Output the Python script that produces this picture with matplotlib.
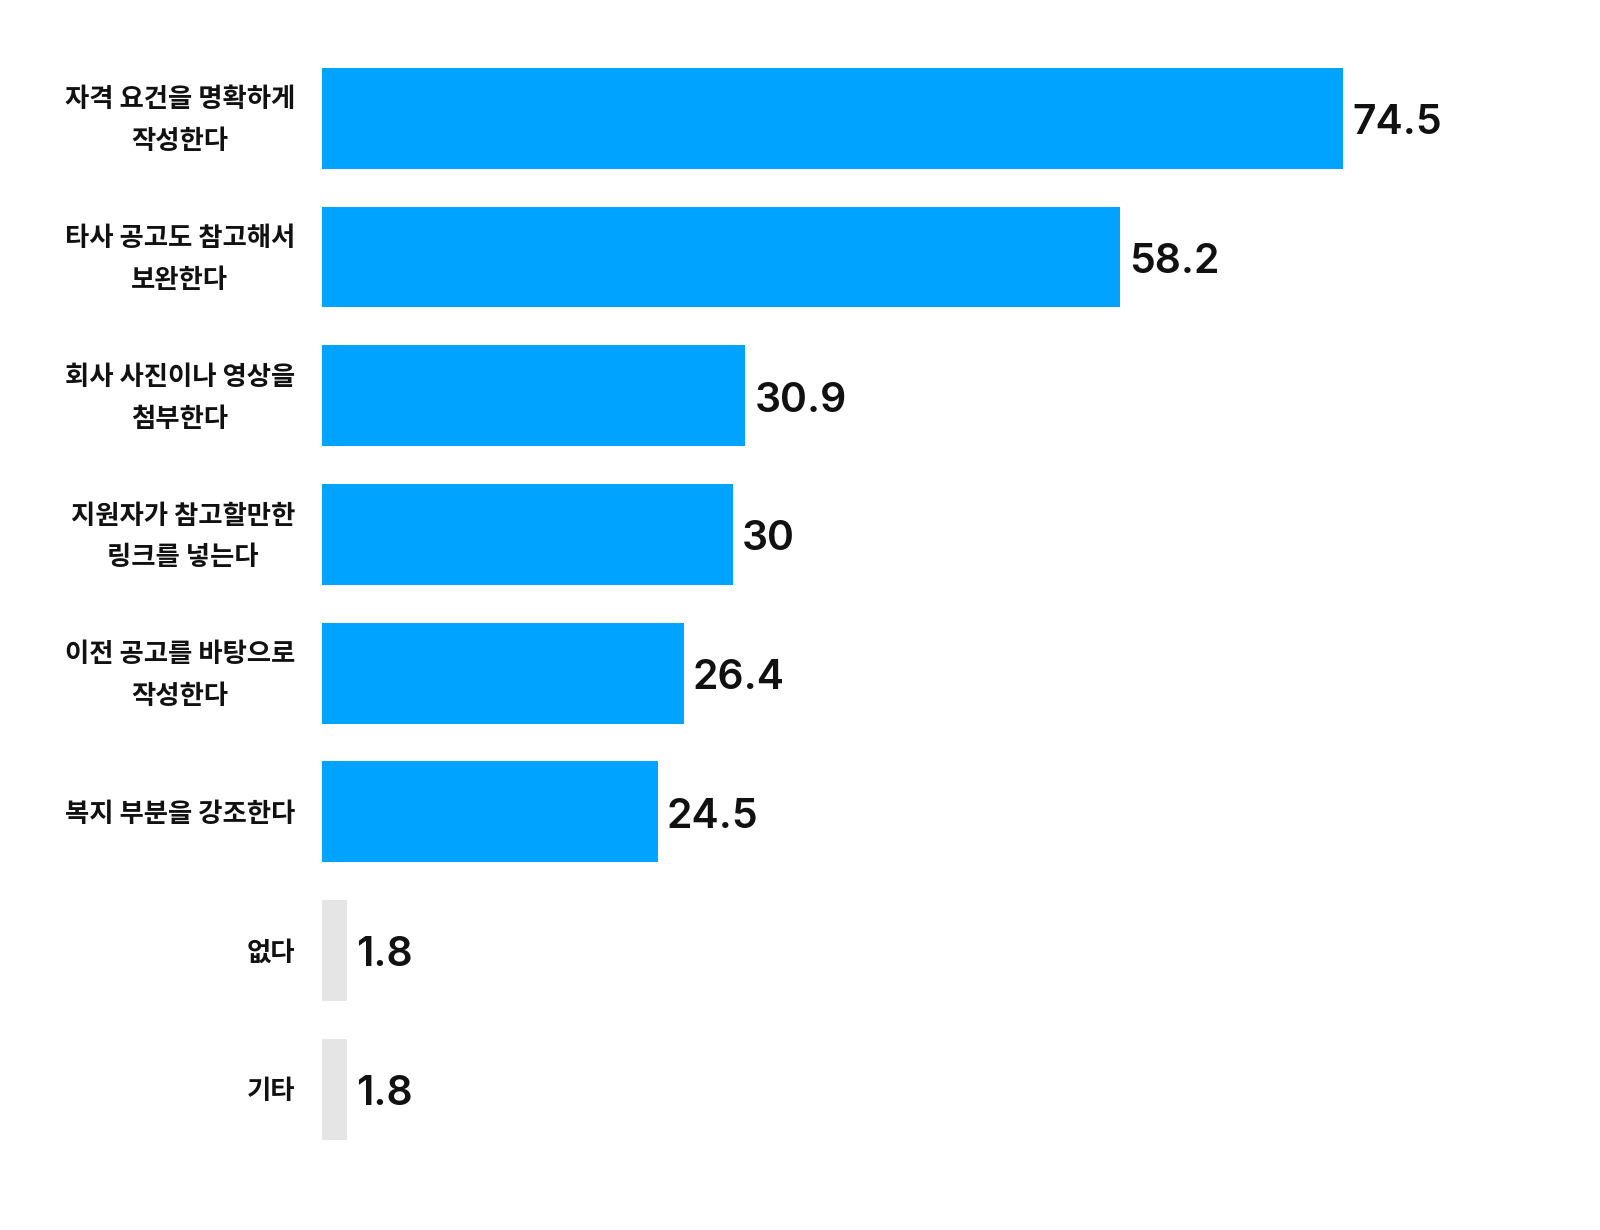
import matplotlib
matplotlib.use("Agg")
import matplotlib.pyplot as plt
import matplotlib.transforms as mtransforms

categories = [
    "자격 요건을 명확하게\n작성한다",
    "타사 공고도 참고해서\n보완한다",
    "회사 사진이나 영상을\n첨부한다",
    "지원자가 참고할만한\n링크를 넣는다",
    "이전 공고를 바탕으로\n작성한다",
    "복지 부분을 강조한다",
    "없다",
    "기타",
]
values = [74.5, 58.2, 30.9, 30, 26.4, 24.5, 1.8, 1.8]
value_labels = ["74.5", "58.2", "30.9", "30", "26.4", "24.5", "1.8", "1.8"]
highlight = [True, True, True, True, True, True, False, False]

BLUE = "#00A3FF"
GREY = "#E5E5E5"

W, H = 1600, 1230
fig = plt.figure(figsize=(W / 100, H / 100), dpi=100)
left_px, right_px = 322, 1600
top_px, bot_px = 49, 1158.5
ax = fig.add_axes([left_px / W, (H - bot_px) / H, (right_px - left_px) / W, (bot_px - top_px) / H])

pos = list(range(len(categories)))
colors = [BLUE if h else GREY for h in highlight]
ax.barh(pos, values, height=0.727, color=colors)
ax.set_ylim(len(categories) - 0.5, -0.5)
ax.set_xlim(0, (right_px - left_px) / 13.705)

for p, v, lab in zip(pos, values, value_labels):
    ax.annotate(lab, xy=(v, p), xytext=(6.5, -3.5), textcoords="offset points",
                ha="left", va="center", fontsize=29.5, fontweight="semibold",
                family=["Inter", "DejaVu Sans"], color="#111111")

# category labels, drawn as text next to the axis
blend = mtransforms.blended_transform_factory(ax.transAxes, ax.transData)
offset = mtransforms.ScaledTranslation(-27 / 100, -2.5 / 100, fig.dpi_scale_trans)
for p, cat in zip(pos, categories):
    ax.text(0, p, cat, transform=blend + offset, ha="right", va="center",
            multialignment="center", family=["Noto Sans CJK KR", "DejaVu Sans"],
            fontsize=19, fontweight="bold", color="#111111", linespacing=1.7)

ax.set_yticks([])
ax.set_xticks([])
for s in ax.spines.values():
    s.set_visible(False)

fig.savefig("out.png", dpi=100, facecolor="white")
